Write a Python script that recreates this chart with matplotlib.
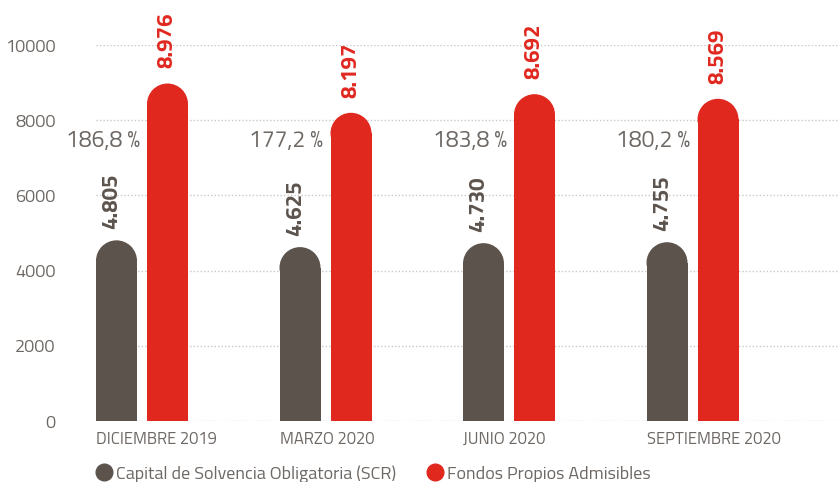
import matplotlib.pyplot as plt
from matplotlib.patches import Ellipse
from matplotlib.lines import Line2D

# data
periods = ["DICIEMBRE 2019", "MARZO 2020", "JUNIO 2020", "SEPTIEMBRE 2020"]
scr = [4805, 4625, 4730, 4755]
fondos = [8976, 8197, 8692, 8569]
scr_labels = ["4.805", "4.625", "4.730", "4.755"]
fondos_labels = ["8.976", "8.197", "8.692", "8.569"]
ratios = ["186,8 %", "177,2 %", "183,8 %", "180,2 %"]

GREY = "#5c534d"
RED = "#e0281f"
TXT = "#6e6864"

plt.rcParams['font.family'] = ['Titillium Web', 'DejaVu Sans']

W, H = 838, 482
fig = plt.figure(figsize=(W / 100, H / 100), dpi=100)
ax = fig.add_axes([96 / W, (H - 421) / H, (W - 96) / W, (421 - 45) / H])

ymax = 10000
xmax = (W - 96) / 183.5
ax.set_xlim(0, xmax)
ax.set_ylim(0, ymax)

bw = 41 / 183.5          # bar width in data units
off = 51 / 183.5         # offset of red bar
# vertical radius of the rounded cap in data units (semicircle in pixels)
ry = (41 / 2) * ymax / (421 - 45)

def rounded_bar(x0, val, color):
    ax.bar(x0, val - ry, width=bw, align='edge', color=color, zorder=3)
    ax.add_patch(Ellipse((x0 + bw / 2, val - ry), bw, 2 * ry,
                         color=color, zorder=3, lw=0))

for i in range(len(periods)):
    rounded_bar(i, scr[i], GREY)
    rounded_bar(i + off, fondos[i], RED)
    ax.annotate(scr_labels[i], (i + bw / 2, scr[i]), xytext=(-3, 8),
                textcoords='offset points', rotation=90, ha='center',
                va='bottom', fontsize=16, fontweight='bold', color=GREY,
                annotation_clip=False)
    ax.annotate(fondos_labels[i], (i + off + bw / 2, fondos[i]), xytext=(0, 11),
                textcoords='offset points', rotation=90, ha='center',
                va='bottom', fontsize=16, fontweight='bold', color=RED,
                annotation_clip=False)
    ax.text(i + bw + 0.015, 7450, ratios[i], ha='right', va='center',
            fontsize=16.5, color=TXT)

ax.set_yticks([0, 2000, 4000, 6000, 8000, 10000])
ax.set_xticks(range(len(periods)))
ax.set_xticklabels(periods, ha='left')
ax.tick_params(axis='y', length=0, pad=29, labelsize=13, labelcolor=TXT)
ax.tick_params(axis='x', length=0, pad=7, labelsize=12, labelcolor=TXT)
ax.grid(axis='y', linestyle=(0, (1, 1.5)), color='#c8c8c8', lw=1, zorder=0)
ax.set_axisbelow(True)
for s in ax.spines.values():
    s.set_visible(False)

handles = [Line2D([], [], marker='o', ls='', color=GREY, markersize=12),
           Line2D([], [], marker='o', ls='', color=RED, markersize=12)]
fig.legend(handles, ["Capital de Solvencia Obligatoria (SCR)", "Fondos Propios Admisibles"],
           loc='center left', bbox_to_anchor=(84 / W, 1 - 474 / H), ncol=2,
           frameon=False, fontsize=13, labelcolor=TXT, handletextpad=0.05,
           columnspacing=1.6, borderpad=0, handlelength=1.2)

fig.savefig("out.png", dpi=100)
